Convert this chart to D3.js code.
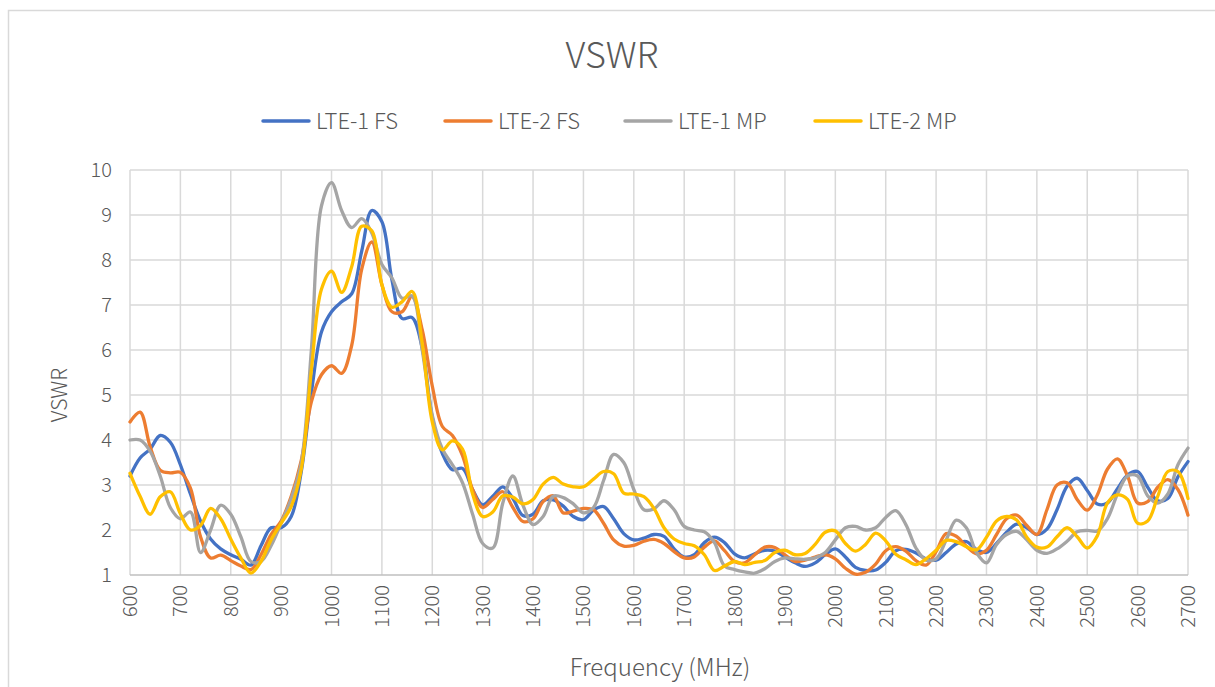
<!DOCTYPE html>
<html lang="en">
<head>
  <meta charset="UTF-8">
  <title>VSWR</title>
  <script src="https://d3js.org/d3.v7.min.js"></script>
  <style>
    body { margin: 0; background: #fff; }
    text { font-family: "Noto Sans CJK SC", "Noto Sans", sans-serif; font-weight: 300; fill: #595959; }
  </style>
</head>
<body>
  <div id="chart"></div>

  <script>
    // Frequency points (MHz), every 20 MHz from 600 to 2700
    const freqs = d3.range(600, 2701, 20);

    // VSWR readings for each series
    const lte1FS = [3.2, 3.6, 3.8, 4.1, 3.95, 3.45, 2.8, 2.2, 1.8, 1.58, 1.45, 1.35, 1.22, 1.65, 2.05, 2.05,
      2.3, 3.3, 5.05, 6.4, 6.85, 7.07, 7.25, 8.2, 9.1, 8.85, 7.55, 6.7, 6.72, 6.04, 4.5, 3.7, 3.34, 3.37, 2.9, 2.56,
      2.75, 2.96, 2.7, 2.32, 2.35, 2.65, 2.67, 2.53, 2.3, 2.23, 2.44, 2.52, 2.25, 1.92, 1.78, 1.82, 1.9, 1.86, 1.58, 1.4,
      1.45, 1.72, 1.84, 1.72, 1.47, 1.38, 1.47, 1.55, 1.53, 1.4, 1.27, 1.19, 1.27, 1.45, 1.58, 1.4, 1.17, 1.1, 1.11, 1.28,
      1.54, 1.57, 1.49, 1.36, 1.33, 1.5, 1.69, 1.74, 1.57, 1.5, 1.7, 1.95, 2.13, 2.05, 1.9, 2.02, 2.45, 2.97, 3.15, 2.88,
      2.58, 2.6, 2.92, 3.22, 3.3, 2.95, 2.65, 2.7, 3.18, 3.52];
    const lte2FS = [4.4, 4.62, 3.85, 3.33, 3.27, 3.28, 2.93, 1.85, 1.38, 1.44, 1.32, 1.2, 1.12, 1.45, 1.9, 2.2,
      2.75, 3.55, 4.85, 5.45, 5.65, 5.48, 6.1, 7.8, 8.4, 7.45, 6.85, 6.85, 7.19, 6.45, 5.2, 4.3, 4.1, 3.65, 2.9, 2.5,
      2.68, 2.85, 2.5, 2.19, 2.25, 2.63, 2.76, 2.38, 2.42, 2.48, 2.45, 2.15, 1.78, 1.64, 1.66, 1.75, 1.79, 1.7, 1.52, 1.38,
      1.4, 1.62, 1.76, 1.54, 1.3, 1.27, 1.45, 1.62, 1.61, 1.45, 1.3, 1.33, 1.4, 1.45, 1.36, 1.15, 1.02, 1.06, 1.24, 1.54,
      1.63, 1.53, 1.32, 1.22, 1.52, 1.92, 1.86, 1.64, 1.47, 1.55, 1.9, 2.25, 2.33, 2.1, 1.9, 2.45, 3.0, 3.05, 2.68, 2.44,
      2.78, 3.35, 3.58, 3.2, 2.6, 2.63, 2.95, 3.12, 2.9, 2.33];
    const lte1MP = [4.0, 4.0, 3.75, 3.2, 2.5, 2.25, 2.4, 1.5, 2.0, 2.55, 2.35, 1.85, 1.3, 1.3, 1.65, 2.15,
      2.7, 3.5, 6.0, 9.2, 9.72, 9.1, 8.72, 8.92, 8.6, 7.9, 7.6, 7.15, 7.2, 6.0, 4.55, 3.8, 3.45, 3.05, 2.35, 1.7,
      1.6, 2.6, 3.2, 2.55, 2.12, 2.3, 2.75, 2.72, 2.58, 2.38, 2.5, 3.1, 3.68, 3.5, 2.9, 2.45, 2.47, 2.65, 2.45, 2.08,
      2.0, 1.96, 1.72, 1.2, 1.12, 1.07, 1.04, 1.14, 1.3, 1.38, 1.36, 1.35, 1.38, 1.5, 1.78, 2.05, 2.08, 2.0, 2.05, 2.28,
      2.43, 2.12, 1.6, 1.33, 1.36, 1.78, 2.22, 2.05, 1.5, 1.27, 1.68, 1.9, 1.97, 1.78, 1.55, 1.48, 1.58, 1.75, 1.96, 1.99,
      1.98, 2.25, 2.8, 3.2, 3.2, 2.76, 2.6, 2.8, 3.45, 3.82];
    const lte2MP = [3.26, 2.75, 2.35, 2.74, 2.85, 2.36, 2.0, 2.1, 2.48, 2.25, 1.8, 1.38, 1.04, 1.3, 1.78, 2.15,
      2.52, 3.35, 5.55, 7.35, 7.75, 7.28, 7.85, 8.75, 8.65, 7.45, 6.95, 7.07, 7.3, 6.15, 4.4, 3.78, 3.98, 3.8, 2.8, 2.3,
      2.4, 2.76, 2.73, 2.58, 2.68, 3.02, 3.17, 3.02, 2.96, 2.96, 3.13, 3.3, 3.25, 2.82, 2.8, 2.74, 2.48, 2.05, 1.8, 1.7,
      1.65, 1.45, 1.1, 1.2, 1.3, 1.23, 1.28, 1.32, 1.5, 1.55, 1.45, 1.48, 1.68, 1.95, 1.98, 1.7, 1.53, 1.68, 1.93, 1.76,
      1.46, 1.34, 1.23, 1.36, 1.55, 1.77, 1.74, 1.63, 1.56, 1.84, 2.2, 2.3, 2.22, 1.84, 1.62, 1.62, 1.85, 2.05, 1.85, 1.6,
      1.87, 2.6, 2.78, 2.68, 2.15, 2.2, 2.75, 3.3, 3.3, 2.7];

    const seriesNames = ["LTE-1 FS", "LTE-2 FS", "LTE-1 MP", "LTE-2 MP"];
    const seriesColors = ["#4472C4", "#ED7D31", "#A5A5A5", "#FFC000"];
    const seriesValues = [lte1FS, lte2FS, lte1MP, lte2MP];

    // Tick values
    const xTicks = d3.range(600, 2701, 100);
    const yTicks = d3.range(1, 11, 1);

    // Define dimensions
    const width = 1215, height = 687;
    const margin = { top: 170, right: 27, bottom: 112, left: 130 };

    const svg = d3.select("#chart").append("svg")
      .attr("width", width)
      .attr("height", height);

    // Chart border
    svg.append("rect")
      .attr("x", 8.5).attr("y", 10.5)
      .attr("width", width).attr("height", height)
      .attr("fill", "none")
      .attr("stroke", "#d9d9d9")
      .attr("stroke-width", 1.5);

    // Create scales
    const x = d3.scaleLinear()
      .domain([600, 2700])
      .range([margin.left, width - margin.right]);

    const y = d3.scaleLinear()
      .domain([1, 10])
      .range([height - margin.bottom, margin.top]);

    // Gridlines
    svg.append("g")
      .selectAll("line")
      .data(yTicks.slice(1))
      .enter().append("line")
        .attr("x1", x(600)).attr("x2", x(2700))
        .attr("y1", d => y(d)).attr("y2", d => y(d))
        .attr("stroke", "#d9d9d9")
        .attr("stroke-width", 1.5);

    svg.append("g")
      .selectAll("line")
      .data(xTicks)
      .enter().append("line")
        .attr("x1", d => x(d)).attr("x2", d => x(d))
        .attr("y1", y(1)).attr("y2", y(10))
        .attr("stroke", "#d9d9d9")
        .attr("stroke-width", 1.5);

    // Bottom axis line
    svg.append("line")
      .attr("x1", x(600)).attr("x2", x(2700))
      .attr("y1", y(1)).attr("y2", y(1))
      .attr("stroke", "#bfbfbf")
      .attr("stroke-width", 1.5);

    // Y tick labels
    svg.append("g")
      .selectAll("text")
      .data(yTicks)
      .enter().append("text")
        .attr("x", x(600) - 18)
        .attr("y", d => y(d))
        .attr("dy", "0.35em")
        .attr("text-anchor", "end")
        .attr("font-size", 20)
        .text(d => d);

    // X tick labels, rotated
    svg.append("g")
      .selectAll("text")
      .data(xTicks)
      .enter().append("text")
        .attr("transform", d => `translate(${x(d)},${y(1) + 10}) rotate(-90)`)
        .attr("dy", "0.35em")
        .attr("text-anchor", "end")
        .attr("font-size", 20)
        .text(d => d);

    // Lines
    const line = d3.line()
      .x((d, i) => x(freqs[i]))
      .y(d => y(d))
      .curve(d3.curveCatmullRom.alpha(0.5));

    svg.append("g")
      .selectAll("path")
      .data(seriesValues)
      .enter().append("path")
        .attr("d", d => line(d))
        .attr("fill", "none")
        .attr("stroke", (d, i) => seriesColors[i])
        .attr("stroke-width", 3.3)
        .attr("stroke-linejoin", "round")
        .attr("stroke-linecap", "round");

    // Title
    svg.append("text")
      .attr("x", 612).attr("y", 55)
      .attr("dy", "0.35em")
      .attr("text-anchor", "middle")
      .attr("font-size", 36)
      .text("VSWR");

    // Legend
    const legendX = [263, 445, 625, 815];
    const legend = svg.append("g")
      .selectAll("g")
      .data(seriesNames)
      .enter().append("g")
        .attr("transform", (d, i) => `translate(${legendX[i]},121)`);

    legend.append("line")
      .attr("x1", 0).attr("x2", 46)
      .attr("stroke", (d, i) => seriesColors[i])
      .attr("stroke-width", 3.5)
      .attr("stroke-linecap", "round");

    legend.append("text")
      .attr("x", 53)
      .attr("dy", "0.35em")
      .attr("font-size", 22)
      .text(d => d);

    // Axis titles
    svg.append("text")
      .attr("transform", "translate(60,395) rotate(-90)")
      .attr("dy", "0.35em")
      .attr("text-anchor", "middle")
      .attr("font-size", 21)
      .text("VSWR");

    svg.append("text")
      .attr("x", (x(600) + x(2700)) / 2 + 1)
      .attr("y", 668)
      .attr("dy", "0.35em")
      .attr("text-anchor", "middle")
      .attr("font-size", 24)
      .text("Frequency (MHz)");
  </script>
</body>
</html>
